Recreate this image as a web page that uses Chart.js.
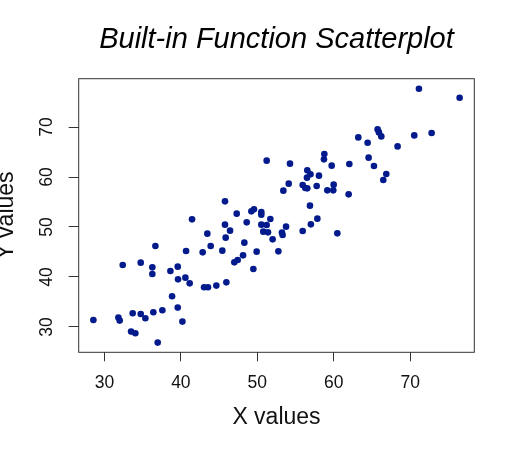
<!DOCTYPE html>
<html lang="en">
<head>
  <meta charset="UTF-8">
  <title>Built-in Function Scatterplot</title>
  <script src="https://cdn.jsdelivr.net/npm/chart.js"></script>
  <style>
    html, body { margin: 0; padding: 0; background: #fff; }
  </style>
</head>
<body>
  <canvas id="grafico" width="515" height="451"></canvas>

  <script>
    // values
    const xValues = [28.56, 31.83, 32.0, 32.4, 33.7, 33.49, 34.05, 34.75, 34.75, 35.36,
      36.27, 36.27, 36.4, 36.67, 36.97, 37.58, 38.63, 38.85, 39.59, 39.63,
      39.59, 40.2, 40.59, 40.68, 41.15, 41.46, 42.85, 43.03, 43.55, 43.46,
      43.9, 44.64, 45.42, 45.77, 45.77, 45.86, 45.95, 46.43, 47.3, 46.99,
      47.43, 48.13, 48.3, 48.61, 49.22, 49.56, 49.48, 49.91, 50.52, 50.52,
      50.52, 51.22, 51.22, 50.78, 51.39, 51.7, 52.0, 52.75, 53.22, 53.3,
      53.4, 53.75, 54.1, 54.27, 55.93, 55.93, 56.27, 56.53, 56.53, 56.49,
      56.95, 56.88, 57.0, 57.76, 58.06, 57.85, 58.76, 58.71, 59.15, 59.98,
      59.93, 59.72, 60.46, 61.94, 62.03, 63.2, 64.42, 64.55, 65.25, 65.73,
      65.9, 66.21, 66.47, 66.86, 68.34, 70.52, 71.13, 72.79, 76.45];
    const yValues = [31.4, 31.87, 31.27, 42.4, 32.73, 29.07, 28.73, 42.87, 32.6, 31.73,
      41.93, 40.6, 32.93, 46.2, 26.87, 33.33, 41.2, 36.13, 42.07, 39.53,
      33.87, 31.07, 39.87, 45.2, 38.73, 51.53, 44.93, 37.93, 37.93, 48.67,
      46.2, 38.27, 45.27, 55.13, 50.47, 47.87, 38.93, 49.27, 52.67, 42.93,
      43.4, 44.33, 46.87, 50.93, 53.13, 53.53, 41.6, 45.07, 53.0, 52.47,
      50.47, 63.27, 50.4, 49.07, 48.93, 51.6, 47.53, 45.13, 48.9, 48.4,
      57.27, 50.07, 58.67, 62.67, 58.4, 49.2, 57.8, 57.73, 61.33, 59.87,
      60.55, 54.27, 50.53, 58.2, 60.27, 51.67, 64.6, 63.53, 57.33, 58.47,
      57.33, 62.27, 48.73, 56.53, 62.6, 67.93, 66.87, 63.87, 62.2, 69.53,
      68.93, 68.13, 59.4, 60.6, 66.13, 68.33, 77.67, 68.8, 75.87];
    const xTicks = [30, 40, 50, 60, 70];
    const yTicks = [30, 40, 50, 60, 70];

    const punti = xValues.map((x, i) => ({ x: x, y: yValues[i] }));
    const font = 'Liberation Sans, Arial, Helvetica, sans-serif';

    // box round the plot + rotated y tick labels (R style)
    const cornice = {
      id: 'cornice',
      afterDraw(chart) {
        const { ctx, chartArea: a } = chart;
        ctx.save();
        ctx.strokeStyle = '#333';
        ctx.lineWidth = 1;
        ctx.strokeRect(a.left, a.top, a.right - a.left, a.bottom - a.top);
        const ys = chart.scales.y;
        ctx.fillStyle = '#111';
        ctx.font = '17.5px ' + font;
        ctx.textAlign = 'center';
        ctx.textBaseline = 'middle';
        yTicks.forEach(v => {
          ctx.save();
          ctx.translate(47, ys.getPixelForValue(v));
          ctx.rotate(-Math.PI / 2);
          ctx.fillText(String(v), 0, 0);
          ctx.restore();
        });
        ctx.restore();
      }
    };

    const ctx = document.getElementById('grafico').getContext('2d');
    const grafico = new Chart(ctx, {
      type: 'scatter',
      data: {
        datasets: [{
          data: punti,
          backgroundColor: '#021a8c',
          borderWidth: 0,
          pointRadius: 3.3,
          pointHoverRadius: 3.3
        }]
      },
      options: {
        responsive: false,
        animation: false,
        layout: { padding: { left: 0, right: 40.7, top: 0, bottom: 0 } },
        plugins: {
          legend: { display: false },
          tooltip: { enabled: false },
          title: {
            display: true,
            fullSize: false, // centre over the plot box, not the whole canvas
            text: 'Built-in Function Scatterplot',
            color: '#000',
            font: { family: font, size: 29, style: 'italic', weight: 'normal', lineHeight: 1.2 },
            padding: { top: 22.4, bottom: 21.5 }
          }
        },
        scales: {
          x: {
            type: 'linear',
            min: 26.64,
            max: 78.37,
            afterBuildTicks: s => { s.ticks = xTicks.map(v => ({ value: v })); },
            afterFit: s => { s.height = 98.7; },
            border: { display: false },
            grid: { drawOnChartArea: false, drawTicks: true, tickLength: 9, color: '#333', tickColor: '#333' },
            ticks: { color: '#111', font: { family: font, size: 17.5 }, padding: 11, maxRotation: 0 },
            title: {
              display: true, text: 'X values', color: '#111',
              font: { family: font, size: 23 }, padding: { top: 0, bottom: 19.2 }
            }
          },
          y: {
            type: 'linear',
            min: 24.93,
            max: 79.67,
            afterBuildTicks: s => { s.ticks = yTicks.map(v => ({ value: v })); },
            afterFit: s => { s.width = 78.7; },
            border: { display: false },
            grid: { drawOnChartArea: false, drawTicks: true, tickLength: 10, color: '#333', tickColor: '#333' },
            ticks: { display: false },
            title: {
              display: true, text: 'Y values', color: '#111',
              font: { family: font, size: 23, lineHeight: 0.6 }, padding: { top: 0, bottom: 0 }
            }
          }
        }
      },
      plugins: [cornice]
    });
  </script>
</body>
</html>
